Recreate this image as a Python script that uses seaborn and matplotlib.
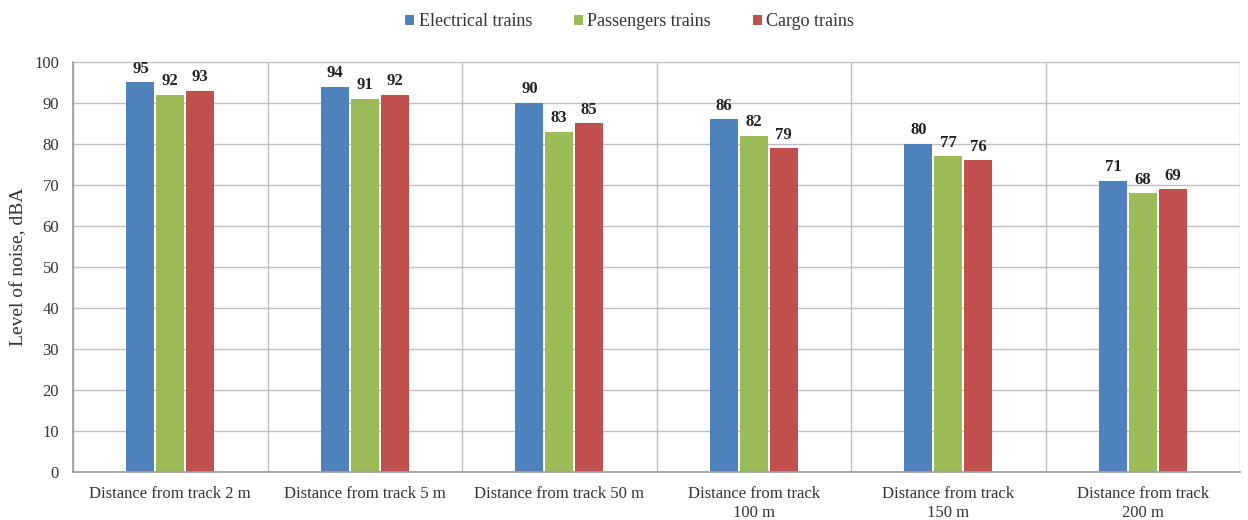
import matplotlib
matplotlib.use("Agg")
import matplotlib.pyplot as plt
import seaborn as sns
import pandas as pd
import numpy as np

categories = [
    "Distance from track 2 m",
    "Distance from track 5 m",
    "Distance from track 50 m",
    "Distance from track\n100 m",
    "Distance from track\n150 m",
    "Distance from track\n200 m",
]
series_names = ["Electrical trains", "Passengers trains", "Cargo trains"]
electrical = [95, 94, 90, 86, 80, 71]
passengers = [92, 91, 83, 82, 77, 68]
cargo = [93, 92, 85, 79, 76, 69]
colors = ["#4F81BD", "#9BBB59", "#C0504D"]

rows = []
for name, vals in zip(series_names, [electrical, passengers, cargo]):
    for cat, v in zip(categories, vals):
        rows.append({"category": cat, "series": name, "value": v})
df = pd.DataFrame(rows)

sns.set_theme(style="white")
plt.rcParams["font.family"] = ["Liberation Serif", "DejaVu Serif"]

text_color = "#333333"

fig = plt.figure(figsize=(12.48, 5.2), dpi=100)
ax = fig.add_axes([0.0585, 0.0923, 0.9351, 0.7885])

sns.barplot(data=df, x="category", y="value", hue="series",
            order=categories, hue_order=series_names,
            palette=colors, width=0.46, gap=0.06, saturation=1,
            edgecolor="none", ax=ax, legend=True)

for container in ax.containers:
    ax.bar_label(container, fmt="%d", padding=4, fontsize=12,
                 fontweight="bold", color="#222222")

ax.set_ylim(0, 100)
ax.set_yticks(np.arange(0, 101, 10))
ax.set_xlim(-0.5, len(categories) - 0.5)
ax.set_xticks(np.arange(-0.5, len(categories), 1.0), minor=True)
ax.grid(axis="y", which="major", color="#BFBFBF", linewidth=1)
ax.grid(axis="x", which="minor", color="#BFBFBF", linewidth=1)
ax.set_axisbelow(True)
ax.tick_params(axis="x", which="both", length=0, labelsize=12, pad=10, colors=text_color)
ax.tick_params(axis="y", length=0, labelsize=12, pad=10, colors=text_color)
for lbl in ax.get_xticklabels():
    lbl.set_linespacing(1.3)
ax.set_xlabel("")
ax.set_ylabel("Level of noise, dBA", fontsize=14, color=text_color, labelpad=5)
for side in ["top", "right"]:
    ax.spines[side].set_visible(False)
ax.spines["left"].set_color("#9F9F9F")
ax.spines["bottom"].set_color("#9F9F9F")

handles, labels = ax.get_legend_handles_labels()
leg = ax.legend(handles, labels, loc="center", bbox_to_anchor=(0.477, 1.098),
                ncol=3, frameon=False, fontsize=13, handlelength=0.5,
                handleheight=0.5, handletextpad=0.25, columnspacing=2.3)
for t in leg.get_texts():
    t.set_color(text_color)

fig.savefig("out.png", dpi=100, facecolor="white")
